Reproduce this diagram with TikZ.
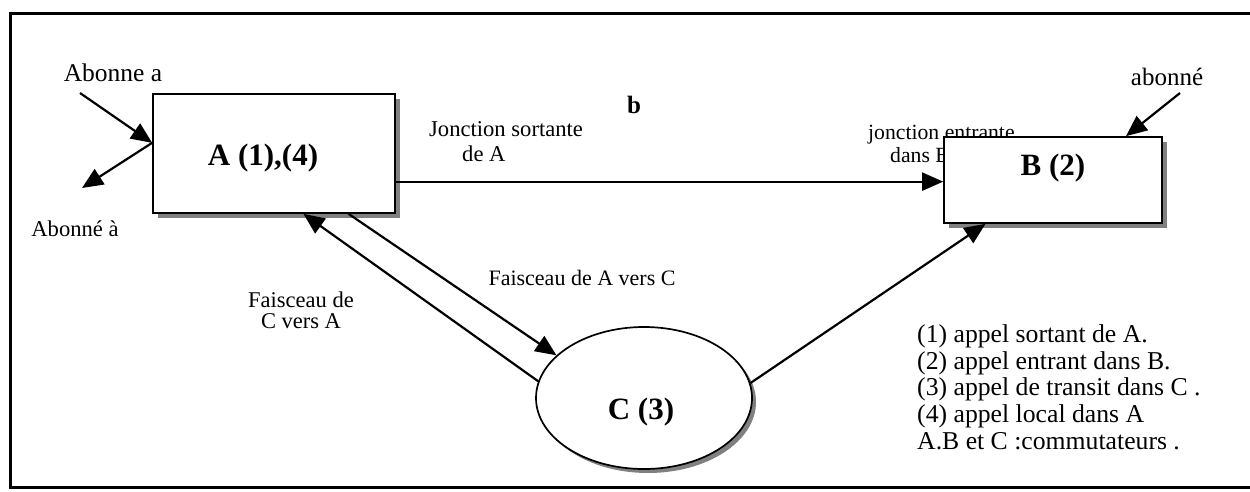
\documentclass[tikz,border=0pt]{standalone}
\usepackage{fontspec}
\setmainfont{Liberation Serif}
\usetikzlibrary{arrows.meta,shapes.geometric}
\begin{document}
\begin{tikzpicture}[x=1pt,y=-1pt,
  shd/.style={fill=black!50},
  boxA/.style={draw,line width=1.7pt,fill=white,rectangle,inner sep=0pt},
  ell/.style={draw,line width=1.7pt,fill=white,ellipse,inner sep=0pt},
  big/.style={font=\fontsize{31}{33}\selectfont\bfseries,inner sep=0pt},
  lbl/.style={font=\fontsize{22}{24}\selectfont,inner sep=0pt},
  lblb/.style={font=\fontsize{25.5}{27}\selectfont,inner sep=0pt},
  arr/.style={line width=2.2pt,-{Triangle[length=21pt,width=18pt]}}]
\useasboundingbox (0,0) rectangle (1250,491);
\fill[white] (0,0) rectangle (1250,491);
% frame
\draw[line width=3pt] (1250,13.5) -- (10.5,13.5) -- (10.5,487.5) -- (1250,487.5);

% shadows
\fill[shd] (158,99) rectangle (400,218);
\fill[shd] (949,142) rectangle (1167,228);
\fill[shd] (648,402) ellipse [x radius=108pt, y radius=71pt];

% label drawn before box B (box B covers part of it)
\node[lbl,align=left,anchor=west,font=\fontsize{21.7}{22.5}\selectfont] (jentr) at (868,144) {jonction entrante\\\hspace*{22pt}dans B};

% nodes
\node[boxA,minimum width=242pt,minimum height=119pt] (A) at (274,153.5) {};
\node[boxA,minimum width=218pt,minimum height=86pt] (B) at (1053,180) {};
\node[ell,minimum width=216pt,minimum height=142pt] (C) at (644,398) {};

\node[big] (At) at (263,158) {A (1),(4)};
\node[big] (Bt) at (1053,168) {B (2)};
\node[big] (Ct) at (641,412) {C (3)};

\node[lblb] (abA) at (113,73) {Abonne a};
\node[lbl,font=\fontsize{22.6}{24}\selectfont] (abA2) at (75,229) {Abonné à};
\node[lblb,font=\fontsize{25}{26}\selectfont] (abB) at (1167,77) {abonné};
\node[lblb,font=\fontsize{25}{26}\selectfont\bfseries] (b) at (634,105) {b};
\node[lbl,align=left,anchor=west,font=\fontsize{22.6}{25}\selectfont] (jsort) at (429,142) {Jonction sortante\\\hspace*{33pt}de A};
\node[lbl] (fAC) at (582,278) {Faisceau de A vers C};
\node[lbl,align=center,font=\fontsize{22.5}{21}\selectfont] (fCA) at (301,310) {Faisceau de\\C vers A};
\node[font=\fontsize{25.7}{26.7}\selectfont,inner sep=0pt,align=left,anchor=west] (leg) at (917,387)
  {(1) appel sortant de A.\\(2) appel entrant dans B.\\(3) appel de transit dans C .\\(4) appel local dans A\\A.B et C :commutateurs .};

% free ends
\coordinate (pa) at (80,93);
\coordinate (pa2) at (82,188);
\coordinate (pb) at (1180,93);

% connectors
\draw[arr] (pa) -- (A.175);
\draw[arr] (A.175) -- (pa2);
\draw[arr] (pb) -- (B.31);
\draw[arr] (A.-13.3) -- (A.-13.3 -| B.west);
\draw[arr] (A.-39.2) -- (C.154.8);
\draw[arr] (C.171.5) -- (A.-64);
\draw[arr] (C.8.4) -- (B.-147);
\end{tikzpicture}
\end{document}
